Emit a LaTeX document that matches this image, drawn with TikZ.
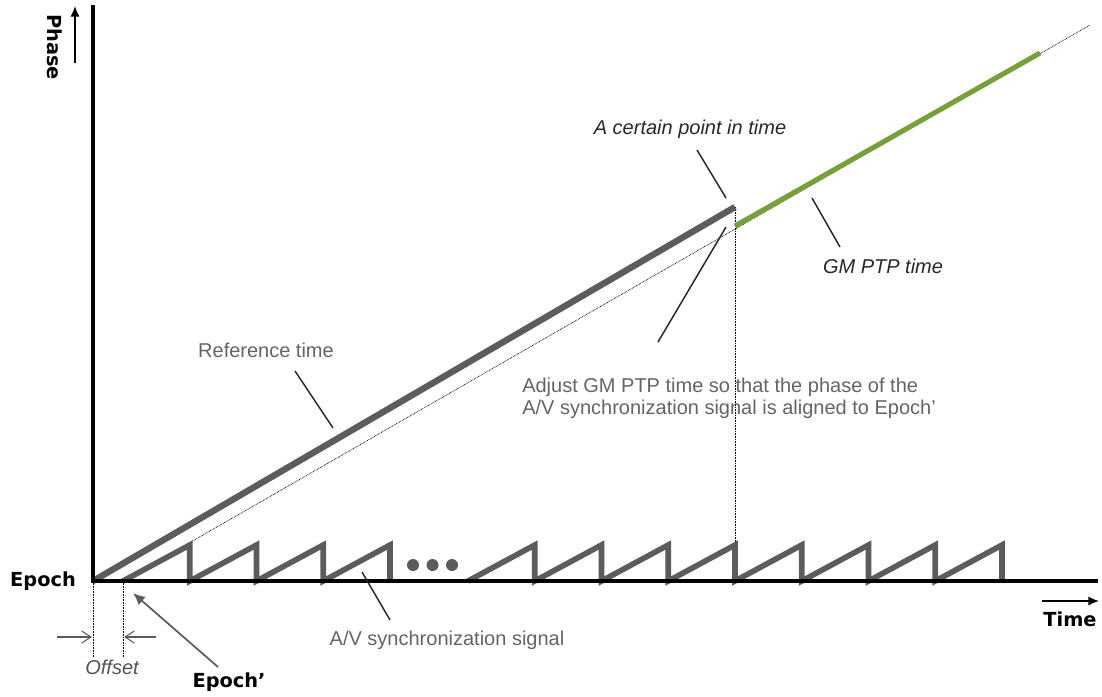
\documentclass[tikz,border=0pt]{standalone}
\usepackage{fontspec}
\setmainfont{Liberation Sans}
\newfontfamily\lblfont{DejaVu Sans}
\usetikzlibrary{arrows.meta}
\definecolor{linegray}{RGB}{92,92,92}
\definecolor{textgray}{RGB}{100,100,100}
\definecolor{darktext}{RGB}{40,40,40}
\definecolor{gmgreen}{RGB}{119,160,58}
\begin{document}
\begin{tikzpicture}[x=0.75pt,y=-0.75pt,
  axis/.style={line width=2.3pt,black},
  ramp/.style={line width=4.8pt,linegray},
  saw/.style={line width=4.2pt,linegray,line join=miter},
  guide/.style={line width=0.5pt,black,dash pattern=on 0.6pt off 0.6pt},
  leader/.style={line width=1.1pt,black!85},
  lbl/.style={font=\fontsize{15}{16.5}\selectfont,text=textgray,inner sep=0pt},
  ilbl/.style={lbl,font=\fontsize{15}{16.5}\selectfont\itshape},
  bold/.style={font=\lblfont\bfseries\fontsize{14.5}{16}\selectfont,inner sep=0pt},
  thinarrow/.style={line width=0.8pt,linegray,-{Straight Barb[length=7pt,width=9pt]}}]
\useasboundingbox (0,0) rectangle (1102,696);

% key points
\coordinate (O) at (93,581);        % Epoch
\coordinate (Op) at (123,581);      % Epoch'
\coordinate (T) at (735,207);       % end of reference time
\coordinate (G0) at (735,226);      % start of GM PTP time
\coordinate (G1) at (1040,53);      % end of GM PTP time
\coordinate (Gend) at (1090,25);    % end of the extended phase line
\coordinate (Tbase) at (735,581);

% extended phase line through Epoch'
\draw[guide] (Op) -- (Gend);
% vertical marker at the point in time
\draw[guide] (T) -- (Tbase);
% Offset markers
\coordinate (d1) at (93,657);
\coordinate (d2) at (123,657);
\draw[guide] (O) -- (d1);
\draw[guide] (Op) -- (d2);

% A/V synchronization signal (sawtooth)
\draw[saw] (Op) \foreach \i in {1,...,4} { -- ++(66.75,-36) -- ++(0,36) };
\coordinate (S2) at (468,581);
\draw[saw] (S2) \foreach \i in {1,...,8} { -- ++(66.75,-36) -- ++(0,36) };
\foreach \x in {413,432.5,452}
  \fill[linegray] (\x,565) circle (6);

% reference time and GM PTP time
\draw[ramp] (O) -- (T);
\draw[gmgreen,line width=3.8pt] (G0) -- (G1);

% axes
\coordinate (ytop) at (93,5);
\coordinate (xend) at (1098,581);
\draw[axis] (ytop) -- (O) -- (xend);

% axis direction arrows
\coordinate (pa) at (75,63);
\coordinate (pb) at (75,6);
\draw[line width=1.2pt,-{Latex[length=8pt,width=7pt]}] (pa) -- (pb);
\coordinate (ta) at (1042,601);
\coordinate (tb) at (1099,601);
\draw[line width=1.2pt,-{Latex[length=8pt,width=7pt]}] (ta) -- (tb);

% labels
\node[bold,rotate=-90] (phase) at (55,47) {Phase};
\node[bold] (time) at (1070,619) {Time};
\node[bold] (epoch) at (43,581) {Epoch};
\node[bold] (epochp) at (229,682) {Epoch’};
\node[ilbl,text=darktext!80] (offset) at (112,667) {Offset};
\node[ilbl,text=darktext] (certain) at (690,129) {A certain point in time};
\node[ilbl,text=darktext] (gmptp) at (883,266) {GM PTP time};
\node[lbl] (reftime) at (266,350) {Reference time};
\node[lbl] (avsync) at (447,640) {A/V synchronization signal};
\node[lbl,anchor=west,align=left] (adjust) at (522,398)
  {Adjust GM PTP time so that the phase of the\\A/V synchronization signal is aligned to Epoch’};

% leader lines
\coordinate (l1a) at (295,371); \coordinate (l1b) at (333,428);
\draw[leader] (l1a) -- (l1b);
\coordinate (l2a) at (697,150); \coordinate (l2b) at (726,198);
\draw[leader] (l2a) -- (l2b);
\coordinate (l3a) at (812,198); \coordinate (l3b) at (840,247);
\draw[leader] (l3a) -- (l3b);
\coordinate (l4a) at (658,342); \coordinate (l4b) at (726,227);
\draw[leader] (l4a) -- (l4b);
\coordinate (l5a) at (362,572); \coordinate (l5b) at (390,620);
\draw[leader] (l5a) -- (l5b);

% Offset arrows and Epoch' pointer
\coordinate (oa1) at (57,637); \coordinate (oa2) at (92,637);
\draw[thinarrow] (oa1) -- (oa2);
\coordinate (ob1) at (156,637); \coordinate (ob2) at (124,637);
\draw[thinarrow] (ob1) -- (ob2);
\coordinate (ep1) at (218,667); \coordinate (ep2) at (133,593);
\draw[line width=1.3pt,linegray,-{Latex[length=9pt,width=8pt]}] (ep1) -- (ep2);
\end{tikzpicture}
\end{document}
